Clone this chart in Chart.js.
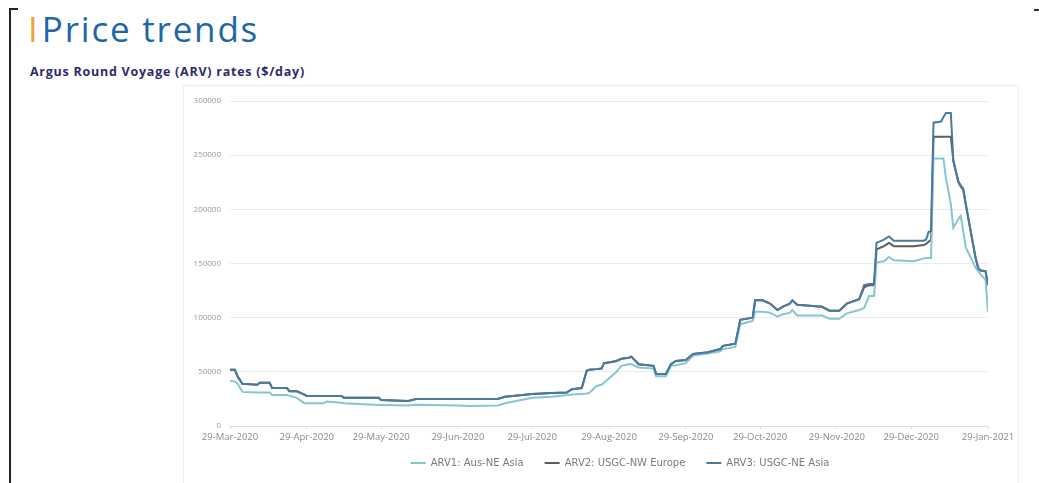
<!DOCTYPE html>
<html>
<head>
<meta charset="utf-8">
<script src="https://cdn.jsdelivr.net/npm/chart.js@4"></script>
<style>
  html, body { margin: 0; padding: 0; background: #fff; }
  body { width: 1039px; height: 483px; position: relative; overflow: hidden; font-family: "Open Sans", sans-serif; }
  .bracket { position: absolute; left: 9px; top: 8px; width: 2px; height: 480px; background: #222; }
  .bracket-top { position: absolute; left: 9px; top: 8px; width: 9px; height: 2px; background: #222; }
  .corner { position: absolute; left: 1034px; top: 9px; width: 5px; height: 2px; background: #333; }
  .title { position: absolute; left: 28px; top: 5px; font-size: 35px; color: #1d66a8; font-weight: 500; letter-spacing: 1.8px; white-space: nowrap; }
  .title .bar { color: #f0a23a; font-weight: 400; margin-right: 4px; letter-spacing: 0; }
  .subtitle { position: absolute; left: 30px; top: 63px; font-size: 12.5px; font-weight: 700; color: #2e2a6c; letter-spacing: 0.75px; white-space: nowrap; }
  .chart-box { position: absolute; left: 183px; top: 85px; width: 836px; height: 398px; border: 1px solid #eeeeee; border-bottom: none; box-sizing: border-box; }
</style>
</head>
<body>
<div class="bracket"></div>
<div class="bracket-top"></div>
<div class="corner"></div>
<div class="title"><span class="bar">I</span>Price trends</div>
<div class="subtitle">Argus Round Voyage (ARV) rates ($/day)</div>
<div class="chart-box"><canvas id="arvChart" width="834" height="397"></canvas></div>
<script>
const startDate = "2020-03-29";
const tickDates = ["2020-03-29", "2020-04-29", "2020-05-29", "2020-06-29", "2020-07-29", "2020-08-29",
  "2020-09-29", "2020-10-29", "2020-11-29", "2020-12-29", "2021-01-29"];

const dates = [
  "2020-03-29", "2020-03-31", "2020-04-01", "2020-04-03", "2020-04-09", "2020-04-10", "2020-04-14", "2020-04-15",
  "2020-04-21", "2020-04-22", "2020-04-25", "2020-04-28", "2020-04-29", "2020-05-06", "2020-05-07", "2020-05-13",
  "2020-05-14", "2020-05-28", "2020-05-29", "2020-06-09", "2020-06-12", "2020-06-29", "2020-07-04", "2020-07-15",
  "2020-07-18", "2020-07-29", "2020-08-06", "2020-08-12", "2020-08-14", "2020-08-18", "2020-08-20", "2020-08-21",
  "2020-08-24", "2020-08-26", "2020-08-27", "2020-08-30", "2020-09-01", "2020-09-03", "2020-09-06", "2020-09-07",
  "2020-09-10", "2020-09-16", "2020-09-17", "2020-09-21", "2020-09-23", "2020-09-25", "2020-09-29", "2020-10-02",
  "2020-10-08", "2020-10-13", "2020-10-14", "2020-10-19", "2020-10-21", "2020-10-26", "2020-10-27", "2020-10-30",
  "2020-11-02", "2020-11-05", "2020-11-07", "2020-11-10", "2020-11-11", "2020-11-13", "2020-11-23", "2020-11-26",
  "2020-11-30", "2020-12-03", "2020-12-08", "2020-12-10", "2020-12-12", "2020-12-14", "2020-12-15", "2020-12-18",
  "2020-12-20", "2020-12-22", "2020-12-30", "2021-01-03", "2021-01-04", "2021-01-05", "2021-01-06", "2021-01-07",
  "2021-01-10", "2021-01-11", "2021-01-12", "2021-01-14", "2021-01-15", "2021-01-17", "2021-01-18", "2021-01-19",
  "2021-01-20", "2021-01-24", "2021-01-25", "2021-01-26", "2021-01-28", "2021-01-29"
];

const arv1 = [
  41700, 41000, 39000, 31500, 31000, 31000, 31000, 28700, 28700, 28000, 26000, 21000, 21000, 21000, 22500, 21500,
  21000, 19500, 19500, 19000, 19500, 19000, 18500, 19000, 21000, 26000, 27000, 28500, 29000, 29600, 30000, 30500,
  37000, 38000, 40000, 46000, 50000, 55500, 57000, 57000, 54000, 53000, 46000, 46000, 55500, 56000, 58000, 65000,
  67000, 69000, 71000, 73000, 94000, 97000, 105500, 105500, 104600, 101000, 103000, 104600, 107000, 102000, 102000, 99000,
  99000, 104000, 107000, 109000, 120000, 120000, 151000, 152000, 156000, 153000, 152000, 154600, 155000, 155000, 155000, 247000,
  247000, 247000, 229000, 205000, 183000, 191000, 194000, 180000, 165000, 146000, 143000, 140000, 135000, 105000
];

const arv2 = [
  51900, 51900, 46000, 39000, 38000, 40000, 40000, 35000, 35000, 32000, 32000, 29000, 27700, 27700, 27700, 27700,
  26000, 26000, 24000, 23000, 25000, 25000, 25000, 25000, 27000, 29600, 30500, 31000, 34000, 35000, 51000, 52000,
  52500, 53000, 58000, 59000, 60000, 62000, 63000, 64000, 57000, 55500, 48000, 48000, 57000, 60000, 61000, 66500,
  68000, 71000, 74000, 76000, 98000, 100000, 116000, 116000, 113000, 107000, 110000, 113000, 116000, 112000, 110000, 106500,
  106500, 113000, 117000, 128000, 130000, 130000, 163000, 166000, 169000, 166000, 166000, 167000, 168000, 170000, 172000, 267000,
  267000, 267000, 267000, 267000, 245000, 226000, 222000, 219000, 205000, 155000, 146000, 143500, 143000, 130000
];

const arv3 = [
  51900, 51900, 46000, 39000, 38000, 40000, 40000, 35000, 35000, 32000, 32000, 29000, 27700, 27700, 27700, 27700,
  26000, 26000, 24000, 23000, 25000, 25000, 25000, 25000, 27000, 29600, 30500, 31000, 34000, 35000, 51000, 52000,
  52500, 53000, 58000, 59000, 60000, 62000, 63000, 64000, 57000, 55500, 48000, 48000, 57000, 60000, 61000, 66500,
  68000, 71000, 74000, 76000, 98000, 100000, 116000, 116000, 113000, 107000, 110000, 113000, 116000, 112000, 110000, 106500,
  106500, 113000, 117000, 130000, 131000, 131000, 169000, 172000, 175000, 171000, 171000, 171000, 172000, 179000, 180000, 280000,
  281000, 285000, 289000, 289000, 245000, 225000, 221000, 218000, 205000, 155000, 146000, 143500, 143000, 130000
];

const seriesNames = ["ARV1: Aus-NE Asia", "ARV2: USGC-NW Europe", "ARV3: USGC-NE Asia"];
const seriesColors = ["#86c6d2", "#5f5b5e", "#4a7b9e"];
const monthNames = ["Jan", "Feb", "Mar", "Apr", "May", "Jun", "Jul", "Aug", "Sep", "Oct", "Nov", "Dec"];

const DAY = 86400000;
const t0 = Date.parse(startDate);
const dayOf = (d) => Math.round((Date.parse(d) - t0) / DAY);
const fmtDay = (n) => {
  const d = new Date(t0 + n * DAY);
  return `${d.getUTCDate()}-${monthNames[d.getUTCMonth()]}-${d.getUTCFullYear()}`;
};
const toPoints = (vals) => vals.map((v, i) => ({ x: dayOf(dates[i]), y: v }));

// move the legend a bit right and up, like the Excel original
const legendShift = {
  id: "legendShift",
  afterLayout(chart) {
    const lg = chart.legend;
    lg.left += 34;
    lg.right += 34;
    lg.top -= 5;
    lg.bottom -= 5;
  },
};

const ctx = document.getElementById("arvChart").getContext("2d");
new Chart(ctx, {
  type: "line",
  data: {
    datasets: [arv1, arv2, arv3].map((vals, i) => ({
      label: seriesNames[i],
      data: toPoints(vals),
      borderColor: seriesColors[i],
      backgroundColor: seriesColors[i],
      borderWidth: 2,
      pointRadius: 0,
      tension: 0,
      order: [1, 2, 0][i],
    })),
  },
  options: {
    responsive: false,
    animation: false,
    layout: { padding: { top: 15, right: 30, bottom: 0, left: 0 } },
    scales: {
      x: {
        type: "linear",
        min: 0,
        max: dayOf(tickDates[tickDates.length - 1]),
        afterBuildTicks: (axis) => {
          axis.ticks = tickDates.map((d) => ({ value: dayOf(d) }));
        },
        afterFit: (axis) => { axis.height = 16; },
        ticks: {
          autoSkip: false,
          maxRotation: 0,
          color: "#8a8a8a",
          font: { size: 9.5, family: "'Open Sans', sans-serif" },
          padding: 3,
          callback: (v) => fmtDay(v),
        },
        grid: { drawOnChartArea: false, drawTicks: true, tickLength: 3, color: "#dcdcdc" },
        border: { color: "#dcdcdc" },
      },
      y: {
        min: 0,
        max: 300000,
        afterFit: (axis) => { axis.width = 46; },
        ticks: {
          stepSize: 50000,
          color: "#9a9a9a",
          font: { size: 8, family: "'Open Sans', sans-serif" },
          padding: 9,
          callback: (v) => String(v),
        },
        grid: { color: "#ececec", drawTicks: false },
        border: { display: false },
      },
    },
    plugins: {
      legend: {
        position: "bottom",
        labels: {
          color: "#7a7a7a",
          font: { size: 10, family: "'DejaVu Sans', sans-serif" },
          boxWidth: 15,
          boxHeight: 2,
          padding: 21,
          generateLabels: (chart) =>
            Chart.defaults.plugins.legend.labels.generateLabels(chart)
              .sort((a, b) => a.datasetIndex - b.datasetIndex)
              .map((l) => ({
                ...l,
                lineWidth: 0,
                fillStyle: chart.data.datasets[l.datasetIndex].borderColor,
              })),
        },
      },
      tooltip: { enabled: false },
    },
  },
  plugins: [legendShift],
});
</script>
</body>
</html>
